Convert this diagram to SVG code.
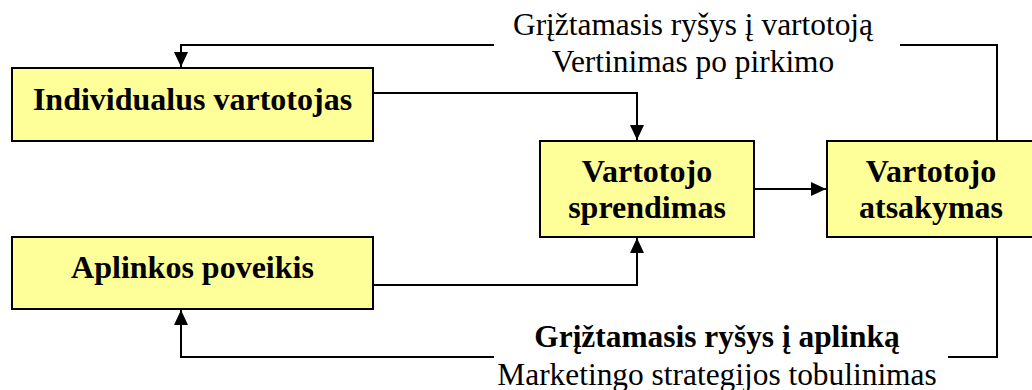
<svg xmlns="http://www.w3.org/2000/svg" width="1032" height="390" viewBox="0 0 1032 390">
  <style>
    .box { fill: #FFFF99; stroke: #000; stroke-width: 2; }
    .node { font-family: "Liberation Serif", "Times New Roman", serif; font-size: 32px; font-weight: bold; fill: #000; text-anchor: middle; }
    .lbl { font-family: "Liberation Serif", "Times New Roman", serif; font-size: 31.4px; fill: #000; text-anchor: middle; }
    .lbl-b { font-weight: bold; }
    .wire { fill: none; stroke: #000; stroke-width: 2; }
  </style>
  <defs>
    <marker id="arrow" viewBox="0 0 15 14" refX="15" refY="7" markerWidth="15" markerHeight="14" markerUnits="userSpaceOnUse" orient="auto">
      <path d="M0,0 L15,7 L0,14 Z" fill="#000"/>
    </marker>
  </defs>
  <rect width="1032" height="390" fill="#fff"/>

  <g id="connectors">
    <!-- consumer -> decision -->
    <path class="wire" d="M373,93 H637 V140" marker-end="url(#arrow)"/>
    <!-- environment -> decision -->
    <path class="wire" d="M373,285 H637 V238" marker-end="url(#arrow)"/>
    <!-- decision -> response -->
    <path class="wire" d="M754,189 H826" marker-end="url(#arrow)"/>
    <!-- feedback to consumer -->
    <path class="wire" d="M997,141 V45 H900"/>
    <path class="wire" d="M494,45 H181 V67" marker-end="url(#arrow)"/>
    <!-- feedback to environment -->
    <path class="wire" d="M997,237 V357 H948"/>
    <path class="wire" d="M494,357 H181 V310" marker-end="url(#arrow)"/>
  </g>

  <g id="label-consumer-feedback">
    <text class="lbl" x="693" y="35">Grįžtamasis ryšys į vartotoją</text>
    <text class="lbl" x="693" y="72">Vertinimas po pirkimo</text>
  </g>
  <g id="label-environment-feedback">
    <text class="lbl lbl-b" x="717" y="347">Grįžtamasis ryšys į aplinką</text>
    <text class="lbl" x="717" y="385">Marketingo strategijos tobulinimas</text>
  </g>

  <g id="node-individual">
    <rect class="box" x="12" y="68" width="361" height="73"/>
    <text class="node" x="192.5" y="110">Individualus vartotojas</text>
  </g>
  <g id="node-environment">
    <rect class="box" x="12" y="237" width="361" height="72"/>
    <text class="node" x="192.5" y="278">Aplinkos poveikis</text>
  </g>
  <g id="node-decision">
    <rect class="box" x="540" y="141" width="214" height="96"/>
    <text class="node" x="647" y="182">Vartotojo</text>
    <text class="node" x="647" y="218">sprendimas</text>
  </g>
  <g id="node-response">
    <rect class="box" x="827" y="141" width="208" height="96"/>
    <text class="node" x="931" y="182">Vartotojo</text>
    <text class="node" x="931" y="218">atsakymas</text>
  </g>
</svg>
